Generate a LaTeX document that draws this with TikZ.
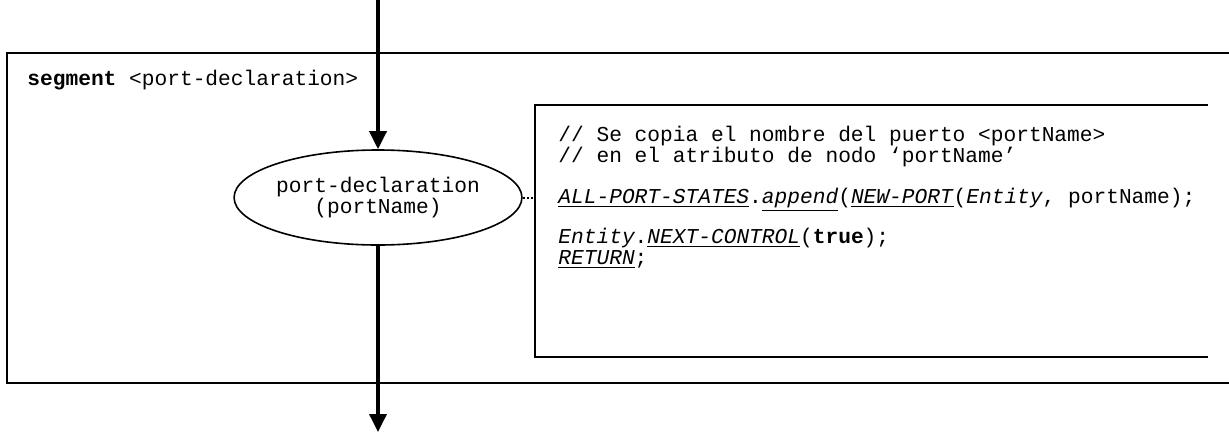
\documentclass[tikz,border=0pt]{standalone}
\usepackage{fontspec}
\setmonofont{Liberation Mono}
\usetikzlibrary{arrows.meta,shapes.geometric}
\tikzset{
  >={Triangle[length=9pt,width=8.5pt]},
  every picture/.style={line join=miter},
  code/.style={font=\ttfamily\fontsize{10.6}{10.5}\selectfont, inner sep=0pt},
  codeline/.style={code, anchor=base west},
  flow/.style={line width=1.8pt, ->},
  frame/.style={line width=1pt},
  proc/.style={ellipse, draw, line width=0.8pt, minimum width=132.5pt,
    minimum height=47.5pt, inner xsep=-8pt, inner ysep=0pt, align=center},
  link/.style={line width=1pt, dash pattern=on 1pt off 1pt},
}
\newcommand{\kw}[1]{\underline{\textit{#1}}}

\begin{document}
\begin{tikzpicture}[x=0.5pt, y=-0.5pt]
\useasboundingbox (0,0) rectangle (1229,434);
% segment frame, open to the right
\draw[frame] (1229,53) -| (7,383) -- (1229,383);
\node[codeline] (seg) at (27,85) {\textbf{segment} <port-declaration>};
% flow
\coordinate (in) at (378,0);
\coordinate (out) at (378,432);
\node[proc, code] (decl) at (378,197.5) {port-declaration\\(portName)};
\draw[flow] (in) -- (decl.north);
\draw[flow] (decl.south) -- (out);
% comment
\draw[frame] (1208,105) -| (535,357) -- (1208,357);
\coordinate (cmtl) at (535,197.5);
\draw[link] (decl.east) -- (cmtl);
\node[codeline] (c1) at (558,141) {// Se copia el nombre del puerto <portName>};
\node[codeline] (c2) at (558,162) {// en el atributo de nodo ‘portName’};
\node[codeline] (c3) at (558,203)
  {\kw{ALL-PORT-STATES}.\kw{append}(\kw{NEW-PORT}(\textit{Entity}, portName);};
\node[codeline] (c4) at (558,243) {\textit{Entity}.\kw{NEXT-CONTROL}(\textbf{true});};
\node[codeline] (c5) at (558,264) {\kw{RETURN};};
\end{tikzpicture}
\end{document}
